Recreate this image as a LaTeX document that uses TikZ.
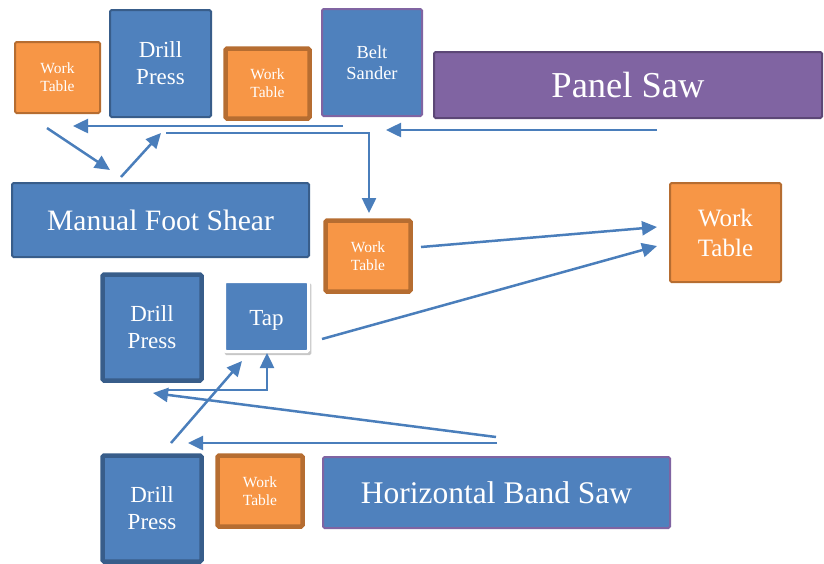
\documentclass[tikz,border=0pt]{standalone}
\usepackage{fontspec}
\setmainfont{Liberation Serif}
\usetikzlibrary{arrows.meta,shadows}
\definecolor{blueF}{HTML}{4F81BD}
\definecolor{blueD}{HTML}{385D8A}
\definecolor{orangeF}{HTML}{F79646}
\definecolor{orangeD}{HTML}{B66D31}
\definecolor{purpF}{HTML}{8064A2}
\definecolor{purpD}{HTML}{5C4776}
\definecolor{arrowC}{HTML}{4A7EBB}
\tikzset{
  box/.style={rectangle, rounded corners=1.5pt, inner sep=0pt, align=center, text=white},
  bluebox/.style={box, fill=blueF, draw=blueD, line width=2pt},
  orangebox/.style={box, fill=orangeF, draw=orangeD, line width=2pt},
  thick box/.style={line width=4.5pt},
  smallfont/.style={font=\fontsize{15.5}{18}\selectfont},
  midfont/.style={font=\fontsize{23}{27}\selectfont},
  flow/.style={draw=arrowC, line width=2.5pt, -{Triangle[length=15pt,width=14pt]}},
}
\begin{document}
\begin{tikzpicture}[x=1pt,y=-1pt]
\useasboundingbox (0,0) rectangle (824,563);
% top row
\node[orangebox, smallfont, minimum width=85, minimum height=71] (wt1) at (57.5,77.5) {Work\\Table};
\node[bluebox, midfont, minimum width=101, minimum height=107] (dp1) at (160.5,63.5) {Drill\\Press};
\node[orangebox, thick box, smallfont, minimum width=84, minimum height=70] (wt2) at (267.5,83.5) {Work\\Table};
\node[bluebox, draw=purpF, font=\fontsize{18.4}{21}\selectfont, minimum width=100, minimum height=107] (bs) at (372,62.5) {Belt\\Sander};
\node[box, fill=purpF, draw=purpD, line width=2pt, font=\fontsize{36.5}{40}\selectfont, minimum width=388, minimum height=66] (ps) at (628,85) {Panel Saw};
% middle
\node[bluebox, font=\fontsize{29.6}{34}\selectfont, minimum width=297, minimum height=74] (mfs) at (160.5,220) {Manual Foot Shear};
\node[orangebox, thick box, smallfont, minimum width=85, minimum height=71] (wt3) at (368,256) {Work\\Table};
\node[orangebox, font=\fontsize{25}{30}\selectfont, minimum width=111, minimum height=99] (wtb) at (725.5,232.5) {Work\\Table};
\node[bluebox, thick box, midfont, minimum width=99, minimum height=106] (dp2) at (152,327.5) {Drill\\Press};
\node[box, fill=blueF, draw=white, line width=3pt, midfont, text height=17pt, text depth=0pt, minimum width=84, minimum height=70,
      drop shadow={shadow xshift=1.5pt, shadow yshift=-2.5pt, shadow scale=1.03, opacity=0.4, fill=black!55}] (tap) at (266.5,316.5) {Tap};
% bottom
\node[bluebox, thick box, midfont, minimum width=99, minimum height=106] (dp3) at (152,508.5) {Drill\\Press};
\node[orangebox, thick box, smallfont, minimum width=85, minimum height=71] (wt4) at (260,491) {Work\\Table};
\node[bluebox, draw=purpF, font=\fontsize{31.5}{36}\selectfont, minimum width=347, minimum height=71] (hbs) at (496.5,492.5) {Horizontal Band Saw};
% connector end points
\coordinate (a1s) at (343,126); \coordinate (a1e) at (73,126);
\coordinate (a2s) at (166,133); \coordinate (a2k) at (369,133); \coordinate (a2e) at (369,213);
\coordinate (a3s) at (657,130); \coordinate (a3e) at (386,130);
\coordinate (a4s) at (47,128); \coordinate (a4e) at (110,170);
\coordinate (a5s) at (121,177); \coordinate (a5e) at (161,133);
\coordinate (a6s) at (421,247); \coordinate (a6e) at (657,227);
\coordinate (a7s) at (322,339); \coordinate (a7e) at (657,246);
\coordinate (a8s) at (496,437); \coordinate (a8e) at (153,393);
\coordinate (a9s) at (166,390); \coordinate (a9k) at (267,390); \coordinate (a9e) at (267,353);
\coordinate (a10s) at (171,443); \coordinate (a10e) at (242,361);
\coordinate (a11s) at (497,443); \coordinate (a11e) at (188,443);
% connectors
\draw[flow] (a1s) -- (a1e);
\draw[flow] (a2s) -- (a2k) -- (a2e);
\draw[flow] (a3s) -- (a3e);
\draw[flow] (a4s) -- (a4e);
\draw[flow] (a5s) -- (a5e);
\draw[flow] (a6s) -- (a6e);
\draw[flow] (a7s) -- (a7e);
\draw[flow] (a8s) -- (a8e);
\draw[flow] (a9s) -- (a9k) -- (a9e);
\draw[flow] (a10s) -- (a10e);
\draw[flow] (a11s) -- (a11e);
\end{tikzpicture}
\end{document}
